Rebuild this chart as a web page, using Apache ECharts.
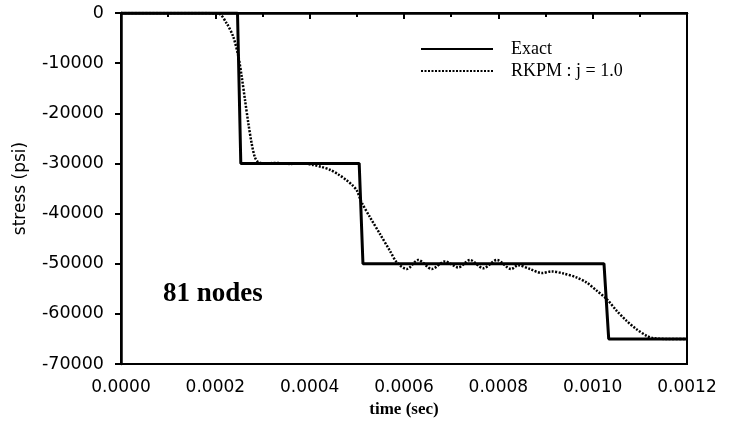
<!DOCTYPE html>
<html>
<head>
<meta charset="utf-8">
<script src="https://cdn.jsdelivr.net/npm/echarts@6/dist/echarts.min.js"></script>
<style>
html,body{margin:0;padding:0;background:#fff;}
#c{width:744px;height:428px;}
</style>
</head>
<body>
<div id="c"></div>
<script>
// Data
var seriesNames = ['Exact', 'RKPM : j = 1.0'];
var exactTime = [0, 0.000247, 0.000254, 0.000505, 0.000513, 0.001024, 0.001034, 0.0012];
var exactStress = [0, 0, -30000, -30000, -50000, -50000, -65000, -65000];
var rkpmTime = [0, 0.000150, 0.000206, 0.000224, 0.000238, 0.000249, 0.000256, 0.000263, 0.000270,
  0.000277, 0.000284, 0.000291, 0.000305, 0.000330, 0.000358, 0.000385, 0.000407, 0.000425,
  0.000443, 0.000461, 0.000479, 0.000490, 0.000500, 0.000510, 0.000528, 0.000549, 0.000570,
  0.000585, 0.000606, 0.000630, 0.000659, 0.000687, 0.000715, 0.000740, 0.000768, 0.000797,
  0.000827, 0.000842, 0.000867, 0.000892, 0.000913, 0.000938, 0.000966, 0.000987, 0.001009,
  0.001030, 0.001051, 0.001072, 0.001093, 0.001115, 0.001129, 0.001160, 0.0012];
var rkpmStress = [0, 0, -100, -2060, -4740, -8740, -12740, -17400, -22000,
  -26000, -28800, -29740, -30000, -29900, -30100, -30000, -30300, -30700,
  -31260, -32200, -33400, -34300, -35400, -37740, -40740, -44060, -47400,
  -49740, -51060, -49260, -51060, -49540, -50740, -49260, -50900, -49260,
  -51060, -50300, -51060, -51860, -51540, -51940, -52740, -53740, -55400,
  -57060, -59400, -61400, -63060, -64400, -64860, -65000, -65000];
var xTickLabels = ['0.0000', '0.0002', '0.0004', '0.0006', '0.0008', '0.0010', '0.0012'];
var yTickLabels = ['0', '-10000', '-20000', '-30000', '-40000', '-50000', '-60000', '-70000'];

function pairs(xs, ys) { return xs.map(function (x, i) { return [x, ys[i]]; }); }

var chart = echarts.init(document.getElementById('c'), null, {renderer: 'canvas'});
chart.setOption({
  animation: false,
  backgroundColor: '#fff',
  grid: {left: 121, right: 57, top: 13, bottom: 64, show: true, borderColor: '#000', borderWidth: 2,
    backgroundColor: 'transparent', containLabel: false, outerBoundsMode: 'none'},
  legend: {
    orient: 'vertical', left: 415, top: 35, itemWidth: 72, itemHeight: 14, itemGap: 4,
    itemStyle: {opacity: 0},
    textStyle: {fontFamily: 'Liberation Serif', fontSize: 18, color: '#000', padding: [0, 0, 0, 13]},
    data: seriesNames
  },
  xAxis: {
    type: 'value', min: 0, max: 0.0012, interval: 0.0002,
    axisLine: {lineStyle: {color: '#000', width: 2.5}},
    axisTick: {show: true, length: 6, lineStyle: {color: '#000', width: 2}},
    minorTick: {show: true, splitNumber: 2, length: 4, lineStyle: {color: '#000', width: 2}},
    splitLine: {show: false},
    axisLabel: {margin: 15, fontFamily: 'DejaVu Sans', fontSize: 17, color: '#000',
      formatter: function (v) { return xTickLabels[Math.round(v / 0.0002)]; }},
    name: 'time (sec)', nameLocation: 'middle', nameGap: 32,
    nameTextStyle: {fontFamily: 'Liberation Serif', fontWeight: 'bold', fontSize: 17, color: '#000'}
  },
  yAxis: {
    type: 'value', min: -70000, max: 0, interval: 10000,
    axisLine: {lineStyle: {color: '#000', width: 2.5}},
    axisTick: {show: true, length: 6, lineStyle: {color: '#000', width: 2}},
    splitLine: {show: false},
    axisLabel: {margin: 17, fontFamily: 'DejaVu Sans', fontSize: 17.5, color: '#000',
      formatter: function (v) { return yTickLabels[Math.round(-v / 10000)]; }},
    name: 'stress (psi)', nameLocation: 'middle', nameGap: 92, nameRotate: 90,
    nameTextStyle: {fontFamily: 'DejaVu Sans', fontSize: 17, color: '#000'}
  },
  series: [
    {name: seriesNames[0], type: 'line', data: pairs(exactTime, exactStress), showSymbol: false, symbol: 'none',
      lineStyle: {color: '#000', width: 3}, itemStyle: {color: '#000'}, z: 3},
    {name: seriesNames[1], type: 'line', data: pairs(rkpmTime, rkpmStress), showSymbol: false, symbol: 'none', smooth: 0.3,
      lineStyle: {color: '#000', width: 2.5, type: [2, 1.5]}, itemStyle: {color: '#000'}, z: 4}
  ],
  graphic: [
    {type: 'text', left: 163, top: 281, style: {text: '81 nodes', fontFamily: 'Liberation Serif', fontWeight: 'bold', fontSize: 27, fill: '#000'}}
  ]
});
</script>
</body>
</html>
